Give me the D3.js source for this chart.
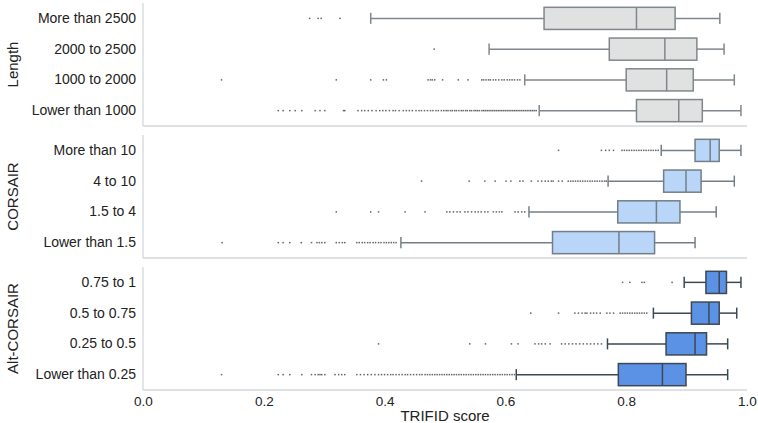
<!DOCTYPE html>
<html><head><meta charset="utf-8">
<script src="https://cdn.jsdelivr.net/npm/d3@7"></script>
<style>body{margin:0;background:#fff}svg{display:block;font-family:"Liberation Sans",Arial,sans-serif}</style>
</head><body><svg id="c" width="758" height="423"></svg>
<script>
// ---- data ----
const groupTitles = ["Length", "CORSAIR", "Alt-CORSAIR"];
const lengthCats = ["More than 2500", "2000 to 2500", "1000 to 2000", "Lower than 1000"];
const corsairCats = ["More than 10", "4 to 10", "1.5 to 4", "Lower than 1.5"];
const altCats = ["0.75 to 1", "0.5 to 0.75", "0.25 to 0.5", "Lower than 0.25"];
// [whiskerLow, q1, median, q3, whiskerHigh]
const lengthStats = [
  [0.377, 0.664, 0.817, 0.881, 0.955],
  [0.573, 0.772, 0.864, 0.917, 0.962],
  [0.632, 0.800, 0.867, 0.911, 0.979],
  [0.656, 0.817, 0.887, 0.926, 0.990]
];
const corsairStats = [
  [0.858, 0.914, 0.939, 0.954, 0.990],
  [0.770, 0.862, 0.899, 0.924, 0.979],
  [0.639, 0.786, 0.850, 0.889, 0.949],
  [0.427, 0.678, 0.788, 0.847, 0.914]
];
const altStats = [
  [0.896, 0.932, 0.954, 0.966, 0.990],
  [0.845, 0.908, 0.937, 0.954, 0.983],
  [0.769, 0.866, 0.914, 0.933, 0.968],
  [0.618, 0.787, 0.860, 0.899, 0.968]
];
const lengthOutliers = [
  [0.276, 0.290, 0.295, 0.326],
  [0.482],
  [0.130, 0.320, 0.377, 0.398, 0.403, 0.472, 0.476, 0.479, 0.483, 0.496, 0.522, 0.538, 0.561, 0.564, 0.568, 0.572, 0.575, 0.580, 0.584, 0.589, 0.594, 0.598, 0.603, 0.607, 0.611, 0.615, 0.620, 0.624],
  [0.224, 0.232, 0.243, 0.252, 0.263, 0.285, 0.293, 0.301, 0.332, 0.334, 0.356, 0.362, 0.367, 0.373, 0.379, 0.386, 0.392, 0.397, 0.402, 0.408, 0.414, 0.418, 0.424, 0.431, 0.436, 0.441, 0.446, 0.452, 0.457, 0.461, 0.466, 0.471, 0.476, 0.480, 0.485, 0.489, 0.494, 0.498, 0.502, 0.505, 0.509, 0.512, 0.516, 0.519, 0.523, 0.527, 0.530, 0.534, 0.537, 0.541, 0.544, 0.548, 0.551, 0.554, 0.557, 0.561, 0.564, 0.567, 0.570, 0.573, 0.576, 0.579, 0.582, 0.585, 0.588, 0.591, 0.594, 0.597, 0.600, 0.603, 0.606, 0.609, 0.612, 0.615, 0.618, 0.621, 0.624, 0.627, 0.630, 0.633, 0.636, 0.639, 0.642, 0.645, 0.648, 0.651]
];
const corsairOutliers = [
  [0.688, 0.759, 0.766, 0.772, 0.779, 0.793, 0.797, 0.801, 0.805, 0.809, 0.813, 0.817, 0.821, 0.825, 0.829, 0.833, 0.837, 0.841, 0.845, 0.849, 0.853],
  [0.461, 0.540, 0.566, 0.583, 0.601, 0.609, 0.624, 0.629, 0.643, 0.654, 0.660, 0.666, 0.671, 0.676, 0.679, 0.688, 0.694, 0.704, 0.708, 0.712, 0.716, 0.720, 0.724, 0.728, 0.732, 0.736, 0.740, 0.744, 0.748, 0.752, 0.756, 0.760, 0.764, 0.767],
  [0.320, 0.377, 0.390, 0.434, 0.467, 0.503, 0.508, 0.514, 0.520, 0.525, 0.533, 0.538, 0.544, 0.550, 0.555, 0.560, 0.566, 0.571, 0.580, 0.585, 0.590, 0.594, 0.616, 0.621, 0.627, 0.632],
  [0.131, 0.224, 0.232, 0.243, 0.262, 0.279, 0.288, 0.292, 0.296, 0.301, 0.320, 0.325, 0.330, 0.334, 0.354, 0.358, 0.363, 0.367, 0.372, 0.376, 0.381, 0.385, 0.390, 0.394, 0.399, 0.403, 0.407, 0.411, 0.415, 0.419]
];
const altOutliers = [
  [0.794, 0.806, 0.826, 0.830, 0.876],
  [0.642, 0.688, 0.715, 0.721, 0.727, 0.732, 0.735, 0.741, 0.746, 0.751, 0.757, 0.768, 0.773, 0.779, 0.790, 0.794, 0.798, 0.802, 0.806, 0.810, 0.814, 0.818, 0.822, 0.826, 0.830, 0.834],
  [0.390, 0.541, 0.567, 0.610, 0.621, 0.649, 0.655, 0.660, 0.666, 0.674, 0.693, 0.699, 0.705, 0.711, 0.717, 0.723, 0.729, 0.735, 0.741, 0.747, 0.753, 0.759],
  [0.130, 0.224, 0.232, 0.243, 0.263, 0.279, 0.285, 0.290, 0.293, 0.296, 0.301, 0.318, 0.324, 0.329, 0.334, 0.354, 0.360, 0.366, 0.372, 0.378, 0.384, 0.390, 0.395, 0.400, 0.405, 0.410, 0.414, 0.419, 0.424, 0.429, 0.434, 0.438, 0.443, 0.448, 0.453, 0.458, 0.462, 0.467, 0.471, 0.475, 0.479, 0.483, 0.487, 0.491, 0.495, 0.499, 0.503, 0.507, 0.511, 0.515, 0.519, 0.523, 0.527, 0.531, 0.535, 0.539, 0.543, 0.547, 0.551, 0.555, 0.559, 0.563, 0.567, 0.571, 0.575, 0.579, 0.583, 0.587, 0.591, 0.595, 0.599, 0.603, 0.607, 0.611, 0.615]
];
const xTicks = [0.0, 0.2, 0.4, 0.6, 0.8, 1.0];
const xTitle = "TRIFID score";

// ---- layout ----
const svg = d3.select("#c");
const left = 143, right = 747;
const panelTops = [3, 135, 267], panelH = 123;
const x = d3.scaleLinear().domain([0, 1]).range([left, right]);
const panels = [
  {title: groupTitles[0], cats: lengthCats, stats: lengthStats, out: lengthOutliers, fill: "#dfe2e1", stroke: "#80878b"},
  {title: groupTitles[1], cats: corsairCats, stats: corsairStats, out: corsairOutliers, fill: "#b9d5f7", stroke: "#727f88"},
  {title: groupTitles[2], cats: altCats, stats: altStats, out: altOutliers, fill: "#5b92e6", stroke: "#3c4852"}
];
const spine = "#d3d8db";
const textCol = "#222";

panels.forEach((p, i) => {
  const top = panelTops[i];
  const y = d3.scaleBand().domain(p.cats).range([top, top + panelH]).padding(0);
  const g = svg.append("g");
  g.append("line").attr("x1", left).attr("x2", left).attr("y1", top).attr("y2", top + panelH)
    .attr("stroke", spine).attr("stroke-width", 1.3);
  g.append("line").attr("x1", left).attr("x2", right).attr("y1", top + panelH).attr("y2", top + panelH)
    .attr("stroke", spine).attr("stroke-width", 1.3);
  const ya = d3.axisLeft(y).tickSize(0).tickPadding(7);
  const ag = g.append("g").attr("transform", `translate(${left},0)`).call(ya);
  ag.select(".domain").remove();
  ag.selectAll("text").attr("font-size", "14px").attr("fill", textCol)
    .attr("font-family", '"Liberation Sans",Arial,sans-serif');
  g.append("text").attr("transform", `translate(18,${top + panelH / 2}) rotate(-90)`)
    .attr("text-anchor", "middle").attr("font-size", "15px").attr("fill", textCol).text(p.title);
  const bh = y.bandwidth() * 0.72;
  p.cats.forEach((c, j) => {
    const s = p.stats[j];
    const cy = y(c) + y.bandwidth() / 2;
    g.selectAll(null).data(p.out[j]).enter().append("rect")
      .attr("x", d => x(d) - 0.75).attr("y", cy - 0.75).attr("width", 1.5).attr("height", 1.5)
      .attr("fill", "#454a4f").attr("opacity", 0.85);
    g.append("line").attr("x1", x(s[0])).attr("x2", x(s[1])).attr("y1", cy).attr("y2", cy)
      .attr("stroke", p.stroke).attr("stroke-width", 1.5);
    g.append("line").attr("x1", x(s[3])).attr("x2", x(s[4])).attr("y1", cy).attr("y2", cy)
      .attr("stroke", p.stroke).attr("stroke-width", 1.5);
    [s[0], s[4]].forEach(v => g.append("line").attr("x1", x(v)).attr("x2", x(v))
      .attr("y1", cy - bh / 4).attr("y2", cy + bh / 4).attr("stroke", p.stroke).attr("stroke-width", 1.5));
    g.append("rect").attr("x", x(s[1])).attr("y", cy - bh / 2).attr("width", x(s[3]) - x(s[1])).attr("height", bh)
      .attr("fill", p.fill).attr("stroke", p.stroke).attr("stroke-width", 1.5);
    g.append("line").attr("x1", x(s[2])).attr("x2", x(s[2])).attr("y1", cy - bh / 2).attr("y2", cy + bh / 2)
      .attr("stroke", p.stroke).attr("stroke-width", 1.5);
  });
});

const xa = d3.axisBottom(x).tickValues(xTicks).tickFormat(d3.format(".1f")).tickSize(0).tickPadding(6);
const xg = svg.append("g").attr("transform", `translate(0,${panelTops[2] + panelH})`).call(xa);
xg.select(".domain").remove();
xg.selectAll("text").attr("font-size", "13.5px").attr("fill", textCol)
  .attr("font-family", '"Liberation Sans",Arial,sans-serif');
svg.append("text").attr("x", (left + right) / 2).attr("y", 421).attr("text-anchor", "middle")
  .attr("font-size", "15px").attr("fill", textCol).text(xTitle);
</script></body></html>
